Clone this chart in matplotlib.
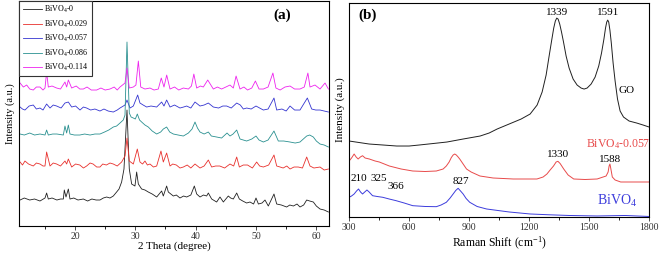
import numpy as np
import matplotlib
matplotlib.use("Agg")
import matplotlib.pyplot as plt

plt.rcParams['font.family'] = ['Liberation Serif', 'DejaVu Serif']
plt.rcParams['mathtext.default'] = 'regular'

# ---- (a) XRD patterns (2 theta, intensity a.u.) ----
xrd_labels = ['BiVO$_4$-0', 'BiVO$_4$-0.029', 'BiVO$_4$-0.057', 'BiVO$_4$-0.086', 'BiVO$_4$-0.114']
xrd_colors = ['#202020', '#e8302c', '#3434d0', '#2a9090', '#ee22ee']

x_black = [10.9, 11.6, 12.5, 13.3, 14.2, 15.03, 15.3, 15.58, 16.2, 17.0, 17.6, 18.07, 18.23, 18.51, 18.9,
           19.17, 19.8, 20.5, 21.38, 22.1, 22.8, 23.5, 24.14, 24.7, 25.25, 25.8, 26.35, 26.9, 27.3, 27.73,
           28.12, 28.62, 29.0, 29.39, 29.94, 30.22, 30.5, 31.05, 31.6, 32.15, 32.8, 33.54, 34.36, 34.64,
           35.19, 35.47, 36.3, 36.8, 37.4, 38.0, 38.51, 39.2, 39.78, 40.17, 40.72, 41.3, 41.82, 42.1, 42.65,
           43.48, 44.03, 44.59, 45.41, 45.8, 46.24, 46.8, 47.24, 47.8, 48.45, 49.0, 49.6, 50.0, 50.4, 51.0,
           51.49, 52.04, 52.98, 53.43, 54.2, 55.08, 55.6, 56.2, 56.8, 57.29, 57.9, 58.4, 58.9, 59.5, 60.0,
           60.61, 61.3, 62.0]
y_black = [26, 28, 26, 27, 25, 28, 33, 27, 28, 26, 27, 27, 36, 29, 37,
           27, 28, 26, 27, 25, 27, 26, 26, 28, 29, 28, 30, 34, 37, 44,
           57, 116, 57, 42, 40, 54, 42, 37, 36, 34, 32, 29, 35, 30,
           40, 34, 30, 31, 28, 30, 29, 31, 40, 32, 29, 31, 30, 33, 27,
           24, 29, 24, 30, 28, 27, 33, 27, 25, 23, 24, 22, 28, 22, 23,
           26, 20, 32, 22, 21, 19, 21, 20, 22, 19, 21, 26, 25, 24, 20,
           17, 16, 14]

x_red = [10.9, 11.3, 11.71, 12.3, 13.09, 13.6, 14.2, 14.7, 15.03, 15.3, 15.86, 16.4, 16.96, 17.6, 18.34,
         18.62, 18.9, 19.45, 20.1, 20.8, 21.4, 21.93, 22.5, 23.0, 23.6, 24.14, 24.6, 25.2, 25.8, 26.35,
         27.0, 27.73, 28.29, 28.62, 29.0, 29.67, 30.33, 30.77, 31.2, 31.6, 32.0, 32.43, 33.0, 33.54,
         34.25, 34.64, 35.19, 35.75, 36.2, 36.8, 37.4, 37.96, 38.6, 39.2, 39.89, 40.72, 41.4, 42.1,
         42.65, 43.3, 44.0, 44.8, 45.69, 46.3, 46.8, 47.24, 47.9, 48.6, 49.4, 50.11, 50.6, 51.22, 52.1,
         52.98, 53.43, 54.0, 54.5, 55.1, 55.64, 56.3, 57.0, 57.7, 58.4, 58.95, 59.6, 60.61, 61.3, 62.0]
y_red = [64, 61, 65, 62, 60, 63, 62, 60, 60, 74, 60, 63, 62, 60, 65,
         62, 67, 59, 62, 61, 58, 60, 63, 62, 59, 59, 62, 61, 63, 62,
         60, 64, 70, 88, 65, 62, 77, 64, 62, 65, 61, 62, 59, 60,
         75, 64, 73, 60, 62, 61, 58, 59, 61, 58, 62, 58, 60, 66,
         59, 60, 60, 58, 62, 60, 69, 59, 61, 61, 58, 64, 60, 59, 61,
         71, 60, 59, 58, 60, 57, 59, 59, 58, 69, 60, 58, 59, 56, 57]

x_blue = [10.9, 11.3, 11.71, 12.4, 13.09, 13.6, 14.2, 14.7, 15.3, 15.86, 16.4, 16.96, 17.7, 18.34, 18.9,
          19.45, 20.1, 20.83, 21.4, 21.93, 22.6, 23.3, 24.14, 24.8, 25.5, 26.35, 27.0, 27.46, 28.29,
          28.62, 29.12, 29.67, 30.39, 30.77, 31.3, 31.88, 32.6, 33.54, 34.36, 34.75, 35.19, 35.75, 36.5,
          37.4, 38.0, 38.51, 39.2, 39.89, 40.72, 41.4, 42.1, 42.93, 43.8, 44.5, 45.14, 45.9, 46.8, 47.4,
          47.9, 48.45, 49.2, 50.0, 50.6, 51.22, 52.0, 52.98, 53.43, 54.3, 55.0, 55.64, 56.4, 57.29, 58.51,
          59.23, 59.9, 60.61, 61.3, 62.0]
y_blue = [119, 117, 116, 120, 121, 117, 118, 116, 122, 118, 121, 120, 118, 123, 124,
          119, 120, 116, 119, 118, 116, 117, 115, 117, 115, 114, 116, 118, 121,
          126, 118, 120, 131, 123, 121, 119, 120, 119, 124, 120, 126, 119, 121,
          118, 119, 120, 118, 124, 120, 121, 123, 119, 118, 120, 120, 118, 123, 121,
          117, 118, 117, 120, 118, 116, 117, 128, 116, 117, 115, 120, 116, 116, 128,
          117, 116, 116, 115, 114]

x_teal = [10.9, 11.6, 12.5, 13.3, 14.2, 15.03, 15.3, 15.58, 16.3, 17.0, 18.07, 18.34, 18.62, 18.9, 19.17,
          19.9, 20.8, 21.6, 22.5, 23.3, 24.14, 24.9, 25.6, 26.35, 26.9, 27.46, 28.0, 28.29, 28.62, 29.0,
          29.3, 29.67, 30.0, 30.33, 30.7, 31.05, 31.6, 32.15, 32.8, 33.54, 34.2, 34.64, 35.19, 35.7, 36.3,
          37.1, 37.96, 38.8, 39.4, 39.89, 40.3, 40.72, 41.4, 42.1, 42.6, 43.48, 44.3, 45.2, 45.69, 46.2,
          46.8, 47.35, 47.9, 48.45, 49.3, 50.0, 50.5, 51.22, 52.0, 52.98, 53.7, 54.6, 55.64, 56.5, 57.29,
          58.4, 58.9, 59.5, 60.0, 60.61, 61.3, 62.0]
y_teal = [92, 91, 93, 91, 92, 91, 96, 91, 92, 92, 91, 100, 93, 101, 92,
          91, 91, 92, 91, 92, 92, 94, 96, 99, 100, 103, 106, 111, 184, 113,
          109, 108, 107, 112, 106, 104, 101, 99, 95, 92, 94, 97, 99, 94, 92,
          91, 90, 93, 97, 104, 98, 94, 92, 94, 90, 89, 88, 93, 90, 92,
          96, 87, 86, 85, 87, 90, 86, 84, 86, 95, 85, 85, 84, 83, 84,
          90, 91, 89, 85, 82, 81, 79]

x_mag = [10.9, 11.44, 12.0, 12.5, 13.09, 13.6, 14.2, 14.7, 15.03, 15.3, 15.58, 16.2, 16.96, 17.6, 18.34,
         18.62, 18.9, 19.45, 20.2, 20.8, 21.38, 22.0, 22.7, 23.59, 24.3, 25.0, 25.8, 26.5, 27.0, 27.46,
         28.29, 28.62, 29.0, 29.67, 30.1, 30.5, 30.9, 31.6, 32.43, 33.1, 33.81, 34.3, 34.75, 35.2, 35.75,
         36.5, 37.2, 37.96, 38.8, 39.3, 39.7, 40.17, 40.8, 41.27, 42.0, 42.93, 43.6, 44.3, 45.0, 45.69,
         46.24, 46.7, 47.35, 48.0, 48.6, 49.3, 49.9, 50.5, 51.22, 52.0, 52.8, 53.3, 54.0, 54.8, 55.64,
         56.4, 57.29, 58.0, 58.6, 58.95, 59.78, 60.61, 61.44, 62.0]
y_mag = [143, 139, 141, 137, 136, 139, 139, 136, 138, 154, 139, 140, 138, 137, 144,
         139, 146, 138, 140, 137, 137, 139, 136, 136, 138, 136, 137, 139, 136, 139,
         143, 158, 138, 139, 141, 165, 139, 137, 138, 136, 137, 148, 139, 151, 137,
         139, 136, 138, 137, 140, 152, 138, 140, 139, 146, 137, 139, 137, 139, 141,
         138, 150, 137, 139, 136, 138, 145, 137, 137, 139, 153, 138, 136, 139, 140,
         137, 137, 139, 153, 139, 141, 137, 143, 137]

xrd_x = [x_black, x_red, x_blue, x_teal, x_mag]
xrd_y = [y_black, y_red, y_blue, y_teal, y_mag]

# ---- (b) Raman spectra (Raman shift cm-1, intensity a.u.) ----
go_x = [300, 350, 400, 470, 538, 600, 650, 720, 789, 870, 955, 1000, 1040, 1100, 1160, 1205, 1240, 1265,
        1285, 1300, 1313, 1323, 1331, 1338, 1345, 1353, 1362, 1372, 1385, 1400, 1420, 1440, 1460, 1475,
        1490, 1510, 1530, 1548, 1562, 1574, 1582, 1588, 1593, 1598, 1604, 1611, 1620, 1630, 1642, 1655,
        1672, 1700, 1738, 1770, 1800]
go_y = [76, 74.5, 73, 72, 71, 71, 72, 73.5, 75, 78, 81, 84, 88, 93, 98, 103, 112, 125,
        142, 161, 177, 189, 196, 199, 198, 193, 185, 175, 161, 149, 138, 132, 129, 128,
        129, 133, 140, 151, 164, 178, 189, 195, 197, 195, 187, 174, 154, 136, 118, 106,
        100, 96, 94, 92, 90]

bv057_x = [300, 312, 325, 335, 345, 356, 367, 380, 401, 430, 451, 501, 560, 618, 680, 736, 770, 786, 800,
           811, 820, 828, 836, 845, 853, 870, 887, 910, 954, 1020, 1121, 1239, 1270, 1289, 1305, 1322,
           1335, 1344, 1355, 1373, 1395, 1423, 1480, 1540, 1585, 1595, 1600, 1604, 1608, 1616, 1630,
           1658, 1720, 1800]
bv057_y = [56, 59, 63, 60, 58, 60, 61.3, 59, 58, 56, 55, 51, 48, 46, 45.5, 46, 48, 51, 55,
           59.5, 62, 63, 62, 60, 58, 53, 48, 45, 41, 39, 38, 38, 40, 43, 47, 51,
           55, 55.7, 53.5, 48, 42, 38, 37.5, 38, 41, 45, 51, 53, 49, 40, 37,
           35, 35, 35]

bv_x = [300, 312, 325, 337, 347, 357, 367, 378, 389, 400, 417, 440, 468, 500, 535, 575, 618, 680, 736,
        760, 786, 805, 820, 833, 845, 857, 870, 885, 903, 940, 987, 1100, 1205, 1300, 1400, 1540, 1680,
        1800]
bv_y = [19.7, 21, 23, 26, 28, 25, 23, 25, 27, 25, 21.3, 20.5, 19.7, 18, 16.3, 14, 11.3, 10.5, 10.3,
        12, 14.7, 19, 23, 26.5, 28.7, 26, 23, 18.5, 14.7, 10.5, 8, 5, 3, 2.2, 1.5, 1, 1.5,
        0.5]

raman_peaks_go = [1339, 1591]
raman_peaks_057 = [1330, 1588]

fig = plt.figure(figsize=(6.6, 2.58), dpi=100)
ax1 = fig.add_axes([0.0295, 0.124, 0.469, 0.872])
ax2 = fig.add_axes([0.529, 0.159, 0.4545, 0.829])

# panel (a)
for xs, ys, c, lab in zip(xrd_x, xrd_y, xrd_colors, xrd_labels):
    ax1.plot(xs, ys, color=c, lw=0.6, label=lab)
ax1.set_xlim(10.8, 62.1)
ax1.set_ylim(0, 225)
ax1.set_yticks([])
ax1.set_xticks([20, 30, 40, 50, 60])
ax1.set_xticks([15, 25, 35, 45, 55], minor=True)
ax1.tick_params(axis='x', labelsize=7, length=3, width=0.6, pad=1.5, colors='#333333')
ax1.tick_params(axis='x', which='minor', length=2, width=0.6)
ax1.set_xlabel('2 Theta (degree)', fontsize=8, labelpad=0)
ax1.set_ylabel('Intensity (a.u.)', fontsize=7.5, labelpad=3)
ax1.text(54.3, 211, '(a)', fontsize=11, fontweight='bold', ha='center', va='center')
leg = ax1.legend(loc='upper left', bbox_to_anchor=(0, 1), borderaxespad=0, fontsize=5.8,
                 handlelength=2.4, labelspacing=0.4, fancybox=False, framealpha=1,
                 edgecolor='#333333', borderpad=0.4, handletextpad=0.3)
leg.get_frame().set_linewidth(0.8)

# panel (b)
ax2.plot(go_x, go_y, color='#202020', lw=0.7)
ax2.plot(bv057_x, bv057_y, color='#e84a4a', lw=0.7)
ax2.plot(bv_x, bv_y, color='#3c3cdc', lw=0.7)
ax2.set_xlim(300, 1800)
ax2.set_ylim(0, 214)
ax2.set_yticks([])
ax2.set_xticks([300, 600, 900, 1200, 1500, 1800])
ax2.set_xticks([450, 750, 1050, 1350, 1650], minor=True)
ax2.tick_params(axis='x', labelsize=7, length=3, width=0.6, pad=1.5, colors='#333333')
ax2.tick_params(axis='x', which='minor', length=2, width=0.6)
ax2.set_xlabel('Raman Shift (cm$^{-1}$)', fontsize=8.5, labelpad=2)
ax2.set_ylabel('Intensity (a.u.)', fontsize=8, labelpad=3)
ax2.text(390, 202, '(b)', fontsize=11, fontweight='bold', ha='center', va='center')

ax2.text(1339, 205, str(raman_peaks_go[0]), fontsize=8, ha='center', va='center')
ax2.text(1596, 205, str(raman_peaks_go[1]), fontsize=8, ha='center', va='center')
ax2.text(1649, 127, 'GO', fontsize=8, ha='left', va='center')
ax2.text(1646, 73, 'BiVO$_4$-0.057', fontsize=8.5, ha='center', va='center', color='#e84a4a')
ax2.text(1344, 63, str(raman_peaks_057[0]), fontsize=8, ha='center', va='center')
ax2.text(1604, 58, str(raman_peaks_057[1]), fontsize=8, ha='center', va='center')
ax2.text(350, 38, '210', fontsize=8, ha='center', va='center')
ax2.text(447, 38, '325', fontsize=8, ha='center', va='center')
ax2.text(535, 30, '366', fontsize=8, ha='center', va='center')
ax2.text(861, 35, '827', fontsize=8, ha='center', va='center')
ax2.text(1641, 16, 'BiVO$_4$', fontsize=10, ha='center', va='center', color='#3c3cdc')

for ax in (ax1, ax2):
    for s in ax.spines.values():
        s.set_linewidth(0.8)

fig.savefig('out.png', dpi=100)
